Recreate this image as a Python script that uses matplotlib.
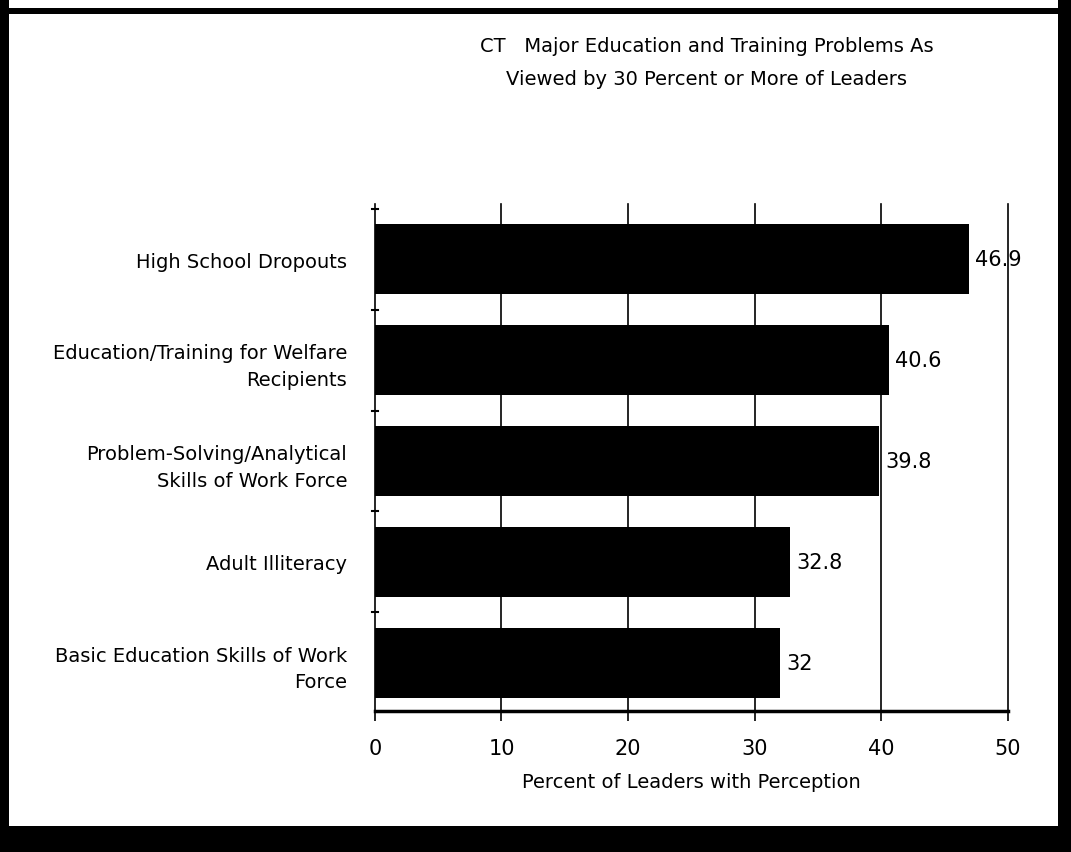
import matplotlib.pyplot as plt
from matplotlib.patches import Rectangle

categories = [
    "High School Dropouts",
    "Education/Training for Welfare\nRecipients",
    "Problem-Solving/Analytical\nSkills of Work Force",
    "Adult Illiteracy",
    "Basic Education Skills of Work\nForce",
]
values = [46.9, 40.6, 39.8, 32.8, 32]
value_labels = ["46.9", "40.6", "39.8", "32.8", "32"]
xticks = [0, 10, 20, 30, 40, 50]

plt.rcParams['font.family'] = ['DejaVu Sans']

fig = plt.figure(figsize=(10.71, 8.53), dpi=100)

# scanned page frame
for (x0, y0, w, h) in [(0.0, 0.0, 1.0, 0.03), (0.0, 0.0, 0.008, 1.0),
                       (0.988, 0.0, 0.012, 1.0), (0.0, 0.982, 1.0, 0.008)]:
    fig.patches.append(Rectangle((x0, y0), w, h, transform=fig.transFigure,
                                 facecolor='black', edgecolor='none'))

ax = fig.add_axes([0.350, 0.165, 0.591, 0.595])
pos = list(range(len(categories)))
ax.barh(pos, values, height=0.69, color='black', zorder=3)

for p, v, s in zip(pos, values, value_labels):
    ax.text(v + 0.5, p, s, va='center', ha='left', fontsize=15)

ax.set_xlim(0, 50)
ax.set_ylim(4.48, -0.55)
for x in xticks[1:]:
    ax.axvline(x, color='black', lw=1.2, zorder=1, clip_on=False)

ax.set_xticks(xticks)
ax.set_xticklabels([str(t) for t in xticks], fontsize=15)
ax.tick_params(axis='x', length=7, width=1.2, pad=12)
ax.set_yticks(pos)
ax.set_yticklabels(categories, fontsize=14, ha='right', linespacing=1.5)
ax.tick_params(axis='y', length=0, pad=20)
for p in [-0.5, 0.5, 1.5, 2.5, 3.5]:
    ax.plot([-0.25, 0.25], [p, p], color='black', lw=1.5, clip_on=False)

for s in ['top', 'right']:
    ax.spines[s].set_visible(False)
ax.spines['left'].set_linewidth(1.2)
ax.spines['bottom'].set_linewidth(2.5)

ax.set_xlabel("Percent of Leaders with Perception", fontsize=14, labelpad=10)
fig.text(0.66, 0.926, "CT   Major Education and Training Problems As\nViewed by 30 Percent or More of Leaders",
         ha='center', va='center', fontsize=14, linespacing=1.9)

fig.savefig('out.png', dpi=100, facecolor='white')
